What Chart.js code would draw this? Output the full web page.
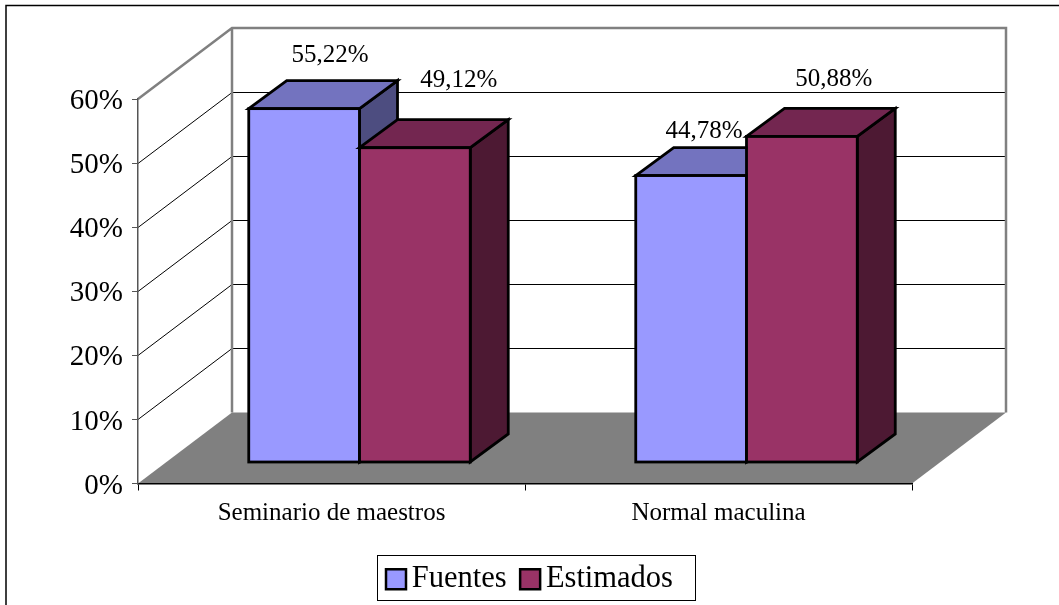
<!DOCTYPE html>
<html>
<head>
<meta charset="utf-8">
<style>html,body{margin:0;padding:0;background:#fff}canvas{display:block}</style>
<script src="https://cdn.jsdelivr.net/npm/chart.js@4/dist/chart.umd.min.js"></script>
</head>
<body>
<canvas id="c" width="1059" height="605" style="width:1059px;height:605px"></canvas>
<script>
const categories = ["Seminario de maestros", "Normal maculina"];
const fuentes = [55.22, 44.78];
const estimados = [49.12, 50.88];
const yTicksMax = 60;
const yStep = 10;

const FONT = "'Liberation Serif','Times New Roman',serif";
const WALL = {dx: 94, dy: -71};      // depth of the floor
const BAR_SHIFT = {dx: 28, dy: -21}; // how far into the floor the bars stand
const BAR_DEPTH = {dx: 38, dy: -28};
const LABEL_NUDGE = [[[26, -54.5], [13, -46]], [[44, -69], [32, -58.5]]]; // per dataset, per category
const SHADES = [{top: '#7373BF', side: '#4D4D80'}, {top: '#732650', side: '#4D1933'}];

const fmt = v => v.toFixed(2).replace('.', ',') + '%';

const scene = {
  id: 'scene',
  beforeDraw(chart) {
    const {ctx, scales: {x, y}} = chart;
    const l = x.left, r = x.right, b = y.getPixelForValue(0), t = y.getPixelForValue(yTicksMax);
    ctx.save();
    ctx.fillStyle = '#fff';
    ctx.fillRect(0, 0, chart.width, chart.height);
    // outer frame, cut by the picture on the right and at the bottom
    ctx.strokeStyle = '#000'; ctx.lineWidth = 1.5;
    ctx.strokeRect(6, 5.5, chart.width + 20, chart.height + 20);
    // floor
    ctx.fillStyle = '#808080';
    ctx.beginPath();
    ctx.moveTo(l, b); ctx.lineTo(r, b); ctx.lineTo(r + WALL.dx, b + WALL.dy); ctx.lineTo(l + WALL.dx, b + WALL.dy);
    ctx.closePath(); ctx.fill();
    // grid lines on the side and back walls
    ctx.strokeStyle = '#000'; ctx.lineWidth = 1;
    for (let v = yStep; v < yTicksMax; v += yStep) {
      const py = Math.floor(y.getPixelForValue(v)) + 0.5;
      ctx.beginPath();
      ctx.moveTo(l, py); ctx.lineTo(l + WALL.dx, py + WALL.dy); ctx.lineTo(r + WALL.dx, py + WALL.dy);
      ctx.stroke();
    }
    // wall outline
    ctx.strokeStyle = '#808080'; ctx.lineWidth = 2.5;
    ctx.beginPath();
    ctx.moveTo(l, t); ctx.lineTo(l + WALL.dx, t + WALL.dy); ctx.lineTo(r + WALL.dx, t + WALL.dy);
    ctx.lineTo(r + WALL.dx, b + WALL.dy);
    ctx.moveTo(l + WALL.dx, t + WALL.dy); ctx.lineTo(l + WALL.dx, b + WALL.dy);
    ctx.stroke();
    ctx.restore();
  },
  // the library paints the left bar last; here the right bar has to cover the left one
  beforeDatasetDraw() { return false; },
  afterDatasetsDraw(chart) {
    const ctx = chart.ctx;
    chart.data.datasets.forEach((ds, i) => {
      const meta = chart.getDatasetMeta(i), shade = SHADES[i];
      ctx.save();
      ctx.translate(BAR_SHIFT.dx, BAR_SHIFT.dy);
      ctx.lineJoin = 'miter'; ctx.strokeStyle = '#000'; ctx.lineWidth = 2.8;
      meta.data.forEach(bar => {
        const L = bar.x - bar.width / 2, R = bar.x + bar.width / 2, T = bar.y, B = bar.base;
        const {dx, dy} = BAR_DEPTH;
        ctx.fillStyle = shade.side;
        ctx.beginPath();
        ctx.moveTo(R, T); ctx.lineTo(R + dx, T + dy); ctx.lineTo(R + dx, B + dy); ctx.lineTo(R, B);
        ctx.closePath(); ctx.fill(); ctx.stroke();
        ctx.fillStyle = shade.top;
        ctx.beginPath();
        ctx.moveTo(L, T); ctx.lineTo(L + dx, T + dy); ctx.lineTo(R + dx, T + dy); ctx.lineTo(R, T);
        ctx.closePath(); ctx.fill(); ctx.stroke();
      });
      meta.controller.draw();
      ctx.lineWidth = 2.8; ctx.strokeStyle = '#000';
      meta.data.forEach(bar => {
        ctx.strokeRect(bar.x - bar.width / 2, bar.y, bar.width, bar.base - bar.y);
      });
      ctx.restore();
    });
  },
  afterLayout(chart) {
    // the legend sits in its own box below the plot
    const lg = chart.legend;
    lg.left = 372.5; lg.right = 1000; lg.width = 627.5; lg.top = 541; lg.bottom = 600;
  },
  afterDraw(chart) {
    const ctx = chart.ctx;
    ctx.save();
    // legend frame
    ctx.strokeStyle = '#000'; ctx.lineWidth = 1;
    ctx.strokeRect(377.5, 555.5, 318, 45);
    // value labels
    ctx.fillStyle = '#000';
    ctx.font = "25px " + FONT;
    ctx.textAlign = 'center'; ctx.textBaseline = 'alphabetic';
    chart.data.datasets.forEach((ds, i) => {
      const meta = chart.getDatasetMeta(i);
      meta.data.forEach((bar, j) => {
        const [nx, ny] = LABEL_NUDGE[i][j];
        ctx.fillText(fmt(ds.data[j]), bar.x + BAR_SHIFT.dx + nx, bar.y + BAR_SHIFT.dy + ny + 8);
      });
    });
    ctx.restore();
  }
};

new Chart(document.getElementById('c'), {
  type: 'bar',
  data: {
    labels: categories,
    datasets: [
      {label: 'Fuentes', data: fuentes, backgroundColor: '#9999FF', borderColor: '#000', borderWidth: 1, borderSkipped: false, clip: false},
      {label: 'Estimados', data: estimados, backgroundColor: '#993366', borderColor: '#000', borderWidth: 1, borderSkipped: false, clip: false}
    ]
  },
  options: {
    responsive: false,
    animation: false,
    devicePixelRatio: 1,
    layout: {padding: {left: 0, top: 99, right: 147, bottom: 0}},
    datasets: {bar: {categoryPercentage: 221.5 / 387, barPercentage: 1}},
    plugins: {
      title: {display: false},
      tooltip: {enabled: false},
      legend: {
        display: true,
        position: 'bottom',
        align: 'start',
        labels: {
          color: '#000',
          font: {family: FONT, size: 30.5},
          usePointStyle: true,
          pointStyle: 'rect',
          boxWidth: 1,
          boxHeight: 20,
          padding: 23,
          generateLabels(chart) {
            return Chart.defaults.plugins.legend.labels.generateLabels(chart)
              .map(it => Object.assign(it, {lineWidth: 2.5}));
          }
        }
      }
    },
    scales: {
      x: {
        afterFit(s) { s.height = 122 - 64; },
        grid: {display: true, drawOnChartArea: false, drawTicks: true, tickLength: 7, color: '#000'},
        border: {display: true, color: '#000', width: 1.5},
        ticks: {color: '#000', font: {family: FONT, size: 25}, padding: 8, maxRotation: 0}
      },
      y: {
        min: 0, max: yTicksMax,
        afterFit(s) { s.width = 138; },
        grid: {display: true, drawOnChartArea: false, drawTicks: true, tickLength: 6, color: '#555'},
        border: {display: true, color: '#555', width: 1.5},
        ticks: {stepSize: yStep, color: '#000', font: {family: FONT, size: 29}, padding: 9, labelOffset: 2.5, callback: v => v + '%'}
      }
    }
  },
  plugins: [scene]
});
</script>
</body>
</html>
